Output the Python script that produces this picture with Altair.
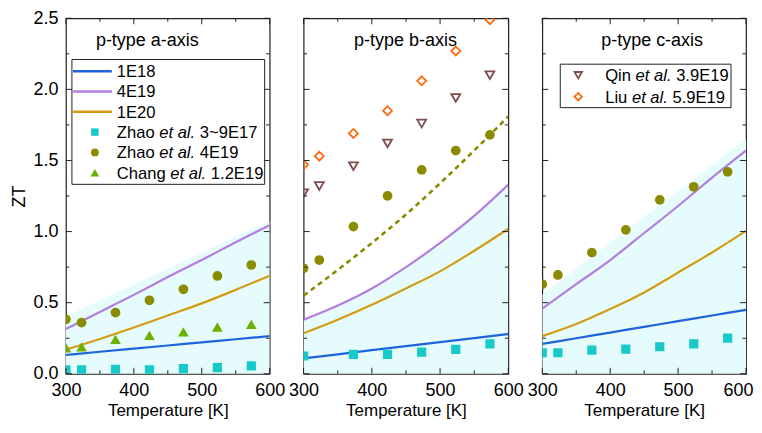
import altair as alt
import pandas as pd

# ---------------- data ----------------
T_MODEL = [300, 350, 400, 450, 500, 550, 600]
T_EXP = [300, 323, 373, 423, 473, 523, 573]
T_BAND = [300, 600]

# a-axis panel
A_1E18 = [0.132, 0.155, 0.177, 0.199, 0.221, 0.243, 0.265]
A_4E19 = [0.315, 0.435, 0.555, 0.68, 0.80, 0.925, 1.045]
A_1E20 = [0.17, 0.245, 0.325, 0.41, 0.495, 0.59, 0.69]
A_BAND = [0.405, 1.075]
A_ZHAO_LOW = [0.028, 0.028, 0.032, 0.028, 0.036, 0.043, 0.056]
A_ZHAO_4E19 = [0.383, 0.36, 0.43, 0.517, 0.594, 0.688, 0.765]
A_CHANG = [0.183, 0.19, 0.242, 0.27, 0.294, 0.329, 0.348]

# b-axis panel
B_1E18 = [0.108, 0.137, 0.166, 0.194, 0.223, 0.251, 0.28]
B_4E19 = [0.38, 0.48, 0.60, 0.75, 0.92, 1.11, 1.33]
B_1E20 = [0.285, 0.38, 0.485, 0.60, 0.72, 0.865, 1.02]
B_DASH = [0.55, 0.73, 0.92, 1.12, 1.34, 1.57, 1.81]
T_B_LOW = [300, 373, 423, 473, 523, 573]
B_ZHAO_LOW = [0.125, 0.137, 0.137, 0.153, 0.172, 0.211]
B_ZHAO_4E19 = [0.742, 0.80, 1.035, 1.251, 1.434, 1.57, 1.68]
B_QIN = [1.27, 1.32, 1.46, 1.62, 1.76, 1.94, 2.10]
B_LIU = [1.47, 1.53, 1.69, 1.85, 2.06, 2.27, 2.49]

# c-axis panel
C_1E18 = [0.21, 0.25, 0.29, 0.33, 0.37, 0.41, 0.45]
C_4E19 = [0.458, 0.63, 0.80, 0.99, 1.18, 1.38, 1.57]
C_1E20 = [0.265, 0.35, 0.455, 0.572, 0.712, 0.853, 1.005]
C_BAND = [0.559, 1.65]
C_ZHAO_LOW = [0.148, 0.148, 0.167, 0.174, 0.19, 0.211, 0.251]
C_ZHAO_4E19 = [0.63, 0.695, 0.852, 1.012, 1.223, 1.315, 1.42]

X_MAJOR = [300, 400, 500, 600]
X_MINOR = [350, 450, 550]
Y_MAJOR = [0.0, 0.5, 1.0, 1.5, 2.0, 2.5]
Y_MINOR = [0.25, 0.75, 1.25, 1.75, 2.25]

PANEL_TITLES = ["p-type a-axis", "p-type b-axis", "p-type c-axis"]
LINE_LABELS = ["1E18", "4E19", "1E20"]

# ---------------- style ----------------
FONT = "Liberation Sans"
BLUE = "#1e64dc"
PURPLE = "#b27fe0"
GOLD = "#d29d14"
CYAN = "#18c9c9"
OLIVE = "#8b8b00"
GREEN = "#6cb000"
BROWN = "#7e4e4e"
ORANGE = "#ff6a10"
BAND = "#e6fcfc"
FRAME = "#222222"
LEG = 16.6
TICKF = 18

XSCALE = alt.Scale(domain=[300, 600], nice=False, zero=False)
YSCALE = alt.Scale(domain=[0, 2.5], nice=False, zero=False)


def x_axis(last=False):
    kw = dict(title="Temperature [K]", values=X_MAJOR, format="d", labelFlush=False,
              ticks=False, tickSize=0, domain=False, grid=False, labelPadding=8,
              titlePadding=3, labelFont=FONT, titleFont=FONT, labelFontSize=TICKF,
              titleFontSize=17, titleFontWeight="normal", labelColor="black",
              titleColor="black")
    if last:
        kw["labelOffset"] = {"condition": {"test": "datum.value == 600", "value": -8},
                             "value": 0}
    return alt.Axis(**kw)


YAXIS = alt.Axis(title="ZT", values=Y_MAJOR, format=".1f", labelFlush=False,
                 ticks=False, tickSize=0, domain=False, grid=False, labelPadding=8,
                 titlePadding=4, labelFont=FONT, titleFont=FONT, labelFontSize=TICKF,
                 titleFontSize=18, titleFontWeight="normal", labelColor="black",
                 titleColor="black")

ONE = alt.Data(values=[{}])

AW = {"Z": .611, "h": .556, "a": .556, "o": .556, " ": .278, "C": .722, "n": .556,
      "g": .556, "Q": .778, "i": .222, "L": .556, "u": .556, "e": .556, "t": .278,
      "l": .222, ".": .278}


def tw(s, size=LEG):
    return sum(AW.get(c, .556) for c in s) * size


def enc(ax, last):
    xa = x_axis(last)

    def X(field):
        return alt.X(field, type="quantitative", scale=XSCALE, axis=xa)

    def Y(field):
        return alt.Y(field, type="quantitative", scale=YSCALE, axis=YAXIS if ax else None)
    return X, Y


def txt(x, y, s, size=LEG, style="normal", align="left"):
    return alt.Chart(ONE).mark_text(text=s, align=align, baseline="alphabetic", font=FONT,
                                    fontSize=size, fontStyle=style, color="black").encode(
        x=alt.value(x), y=alt.value(y))


def author_entry(x, y, author, rest):
    x1 = x + tw(author + " ")
    x2 = x1 + tw("et al.") + tw(" ")
    return [txt(x, y, author), txt(x1, y, "et al.", style="italic"), txt(x2, y, rest)]


def ticks(X, Y, W, H):
    out = []
    for vals, L in ((X_MAJOR, 6), (X_MINOR, 3.5)):
        d = pd.DataFrame({"v": vals})
        base = alt.Chart(d).mark_rule(color=FRAME, strokeWidth=1)
        out.append(base.encode(x=X("v"), y=alt.value(H), y2=alt.value(H - L)))
        out.append(base.encode(x=X("v"), y=alt.value(0), y2=alt.value(L)))
    for vals, L in ((Y_MAJOR, 6), (Y_MINOR, 3.5)):
        d = pd.DataFrame({"v": vals})
        base = alt.Chart(d).mark_rule(color=FRAME, strokeWidth=1)
        out.append(base.encode(y=Y("v"), x=alt.value(0), x2=alt.value(L)))
        out.append(base.encode(y=Y("v"), x=alt.value(W), x2=alt.value(W - L)))
    return out


def panel(W, H, band_t, band_v, curves, dash, pts, ax, last=False):
    X, Y = enc(ax, last)
    layers = []
    bd = pd.DataFrame({"T": band_t, "ZT": band_v})
    layers.append(alt.Chart(bd).mark_area(color=BAND, opacity=1, interpolate="monotone",
                                          clip=True).encode(x=X("T"), y=Y("ZT"), y2=alt.datum(0)))
    for vals, col in curves:
        d = pd.DataFrame({"T": T_MODEL, "ZT": vals})
        layers.append(alt.Chart(d).mark_line(color=col, strokeWidth=2.2, interpolate="monotone",
                                             clip=True).encode(x=X("T"), y=Y("ZT")))
    if dash is not None:
        d = pd.DataFrame({"T": T_MODEL, "ZT": dash})
        layers.append(alt.Chart(d).mark_line(color=OLIVE, strokeWidth=2.6, strokeDash=[5, 4],
                                             interpolate="monotone", clip=True).encode(
            x=X("T"), y=Y("ZT")))
    for t, vals, shape, col, filled, size in pts:
        d = pd.DataFrame({"T": t, "ZT": vals})
        if filled:
            m = alt.Chart(d).mark_point(shape=shape, filled=True, fill=col, color=col,
                                        opacity=1, size=size, clip=True)
        else:
            m = alt.Chart(d).mark_point(shape=shape, filled=False, color=col, strokeWidth=1.8,
                                        opacity=1, size=size, clip=True)
        layers.append(m.encode(x=X("T"), y=Y("ZT")))
    layers += ticks(X, Y, W, H)
    return layers


H = 356

# ---------- panel a ----------
la = panel(204, H, T_BAND, A_BAND,
           [(A_1E18, BLUE), (A_4E19, PURPLE), (A_1E20, GOLD)], None,
           [(T_EXP, A_ZHAO_LOW, "square", CYAN, True, 85),
            (T_EXP, A_ZHAO_4E19, "circle", OLIVE, True, 95),
            (T_EXP, A_CHANG, "triangle-up", GREEN, True, 115)], True)
la.append(txt(30, 27.3, PANEL_TITLES[0], size=18))
la.append(alt.Chart(ONE).mark_rect(fill="white", stroke=FRAME, strokeWidth=1).encode(
    x=alt.value(6), x2=alt.value(199), y=alt.value(41.3), y2=alt.value(166.3)))
ys = [53, 73.3, 93.6, 114, 134.3, 154.6]
for yy, lab, col in zip(ys[:3], LINE_LABELS, [BLUE, PURPLE, GOLD]):
    la.append(alt.Chart(ONE).mark_rule(color=col, strokeWidth=2.4).encode(
        x=alt.value(7), x2=alt.value(46), y=alt.value(yy)))
    la.append(txt(51, yy + 6, lab))
for yy, shape, col, sz in zip(ys[3:], ["square", "circle", "triangle-up"],
                              [CYAN, OLIVE, GREEN], [55, 60, 75]):
    la.append(alt.Chart(ONE).mark_point(shape=shape, filled=True, fill=col, color=col,
                                        opacity=1, size=sz).encode(
        x=alt.value(29), y=alt.value(yy)))
la += author_entry(51, ys[3] + 6, "Zhao", "3~9E17")
la += author_entry(51, ys[4] + 6, "Zhao", "4E19")
la += author_entry(51, ys[5] + 6, "Chang", "1.2E19")
pa = alt.layer(*la).properties(width=204, height=H)

# ---------- panel b ----------
lb = panel(205, H, T_MODEL, B_4E19,
           [(B_1E18, BLUE), (B_4E19, PURPLE), (B_1E20, GOLD)], B_DASH,
           [(T_B_LOW, B_ZHAO_LOW, "square", CYAN, True, 85),
            (T_EXP, B_ZHAO_4E19, "circle", OLIVE, True, 95),
            (T_EXP, B_QIN, "triangle-down", BROWN, False, 80),
            (T_EXP, B_LIU, "diamond", ORANGE, False, 80)], False)
lb.append(txt(102, 27.3, PANEL_TITLES[1], size=18, align="center"))
pb = alt.layer(*lb).properties(width=205, height=H)

# ---------- panel c ----------
lc = panel(204, H, T_BAND, C_BAND,
           [(C_1E18, BLUE), (C_4E19, PURPLE), (C_1E20, GOLD)], None,
           [(T_EXP, C_ZHAO_LOW, "square", CYAN, True, 85),
            (T_EXP, C_ZHAO_4E19, "circle", OLIVE, True, 95)], False, last=True)
lc.append(txt(59, 27.3, PANEL_TITLES[2], size=18))
lc.append(alt.Chart(ONE).mark_rect(fill="white", stroke=FRAME, strokeWidth=1).encode(
    x=alt.value(18), x2=alt.value(189), y=alt.value(46), y2=alt.value(89.5)))
lc.append(alt.Chart(ONE).mark_point(shape="triangle-down", filled=False, color=BROWN,
                                    strokeWidth=1.8, size=55, opacity=1).encode(
    x=alt.value(36), y=alt.value(57)))
lc.append(alt.Chart(ONE).mark_point(shape="diamond", filled=False, color=ORANGE,
                                    strokeWidth=1.8, size=55, opacity=1).encode(
    x=alt.value(36), y=alt.value(78.5)))
lc += author_entry(63, 57 + 6, "Qin", "3.9E19")
lc += author_entry(63, 78.5 + 6, "Liu", "5.9E19")
pc = alt.layer(*lc).properties(width=204, height=H)

chart = alt.hconcat(pa, pb, pc, spacing=34, bounds="flush").properties(
    padding={"left": 2, "top": 0, "right": 0, "bottom": 0}
).configure_view(stroke=FRAME, strokeWidth=1.2)

chart.save("out.html", embed_options={"renderer": "svg", "actions": False})
